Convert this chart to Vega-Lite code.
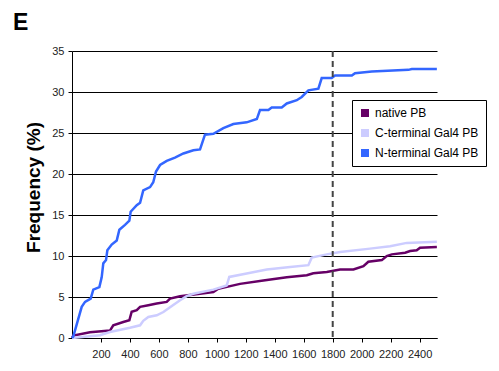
{
  "$schema": "https://vega.github.io/schema/vega-lite/v6.json",
  "width": 365,
  "height": 287,
  "autosize": {"type": "none"},
  "padding": {"left": 72, "top": 51, "right": 62, "bottom": 33},
  "background": "white",
  "title": {
    "text": "E",
    "anchor": "start",
    "frame": "group",
    "font": "Liberation Sans",
    "fontSize": 23,
    "fontWeight": "bold",
    "color": "#000",
    "baseline": "alphabetic",
    "offset": 0,
    "dx": -59,
    "dy": 8
  },
  "config": {
    "view": {"stroke": null},
    "font": "Liberation Sans",
    "axisX": {"labelOverlap": false, "labelBound": false}
  },
  "datasets": {
    "curves": [
      {"series": "native PB", "x": 0, "y": 0},
      {"series": "native PB", "x": 9, "y": 0.3},
      {"series": "native PB", "x": 124, "y": 0.7},
      {"series": "native PB", "x": 262, "y": 0.9},
      {"series": "native PB", "x": 285, "y": 1.55},
      {"series": "native PB", "x": 354, "y": 1.95},
      {"series": "native PB", "x": 396, "y": 2.16},
      {"series": "native PB", "x": 412, "y": 3.2},
      {"series": "native PB", "x": 447, "y": 3.4},
      {"series": "native PB", "x": 470, "y": 3.8},
      {"series": "native PB", "x": 527, "y": 4.0},
      {"series": "native PB", "x": 585, "y": 4.2},
      {"series": "native PB", "x": 654, "y": 4.4},
      {"series": "native PB", "x": 677, "y": 4.8},
      {"series": "native PB", "x": 746, "y": 5.1},
      {"series": "native PB", "x": 884, "y": 5.4},
      {"series": "native PB", "x": 976, "y": 5.6},
      {"series": "native PB", "x": 1010, "y": 6.0},
      {"series": "native PB", "x": 1160, "y": 6.6},
      {"series": "native PB", "x": 1321, "y": 7.0},
      {"series": "native PB", "x": 1483, "y": 7.4},
      {"series": "native PB", "x": 1621, "y": 7.65},
      {"series": "native PB", "x": 1666, "y": 7.9},
      {"series": "native PB", "x": 1759, "y": 8.06},
      {"series": "native PB", "x": 1851, "y": 8.35},
      {"series": "native PB", "x": 1943, "y": 8.35},
      {"series": "native PB", "x": 2012, "y": 8.75},
      {"series": "native PB", "x": 2046, "y": 9.3},
      {"series": "native PB", "x": 2139, "y": 9.5},
      {"series": "native PB", "x": 2173, "y": 10.0},
      {"series": "native PB", "x": 2208, "y": 10.2},
      {"series": "native PB", "x": 2300, "y": 10.4},
      {"series": "native PB", "x": 2334, "y": 10.6},
      {"series": "native PB", "x": 2380, "y": 10.7},
      {"series": "native PB", "x": 2403, "y": 11.0},
      {"series": "native PB", "x": 2519, "y": 11.1},

      {"series": "C-terminal Gal4 PB", "x": 0, "y": 0},
      {"series": "C-terminal Gal4 PB", "x": 193, "y": 0.33},
      {"series": "C-terminal Gal4 PB", "x": 262, "y": 0.73},
      {"series": "C-terminal Gal4 PB", "x": 400, "y": 1.25},
      {"series": "C-terminal Gal4 PB", "x": 470, "y": 1.55},
      {"series": "C-terminal Gal4 PB", "x": 492, "y": 2.1},
      {"series": "C-terminal Gal4 PB", "x": 527, "y": 2.56},
      {"series": "C-terminal Gal4 PB", "x": 585, "y": 2.77},
      {"series": "C-terminal Gal4 PB", "x": 631, "y": 3.17},
      {"series": "C-terminal Gal4 PB", "x": 677, "y": 3.75},
      {"series": "C-terminal Gal4 PB", "x": 746, "y": 4.6},
      {"series": "C-terminal Gal4 PB", "x": 792, "y": 5.1},
      {"series": "C-terminal Gal4 PB", "x": 838, "y": 5.4},
      {"series": "C-terminal Gal4 PB", "x": 976, "y": 5.9},
      {"series": "C-terminal Gal4 PB", "x": 1068, "y": 6.4},
      {"series": "C-terminal Gal4 PB", "x": 1086, "y": 7.45},
      {"series": "C-terminal Gal4 PB", "x": 1206, "y": 7.86},
      {"series": "C-terminal Gal4 PB", "x": 1345, "y": 8.35},
      {"series": "C-terminal Gal4 PB", "x": 1506, "y": 8.67},
      {"series": "C-terminal Gal4 PB", "x": 1632, "y": 8.88},
      {"series": "C-terminal Gal4 PB", "x": 1655, "y": 9.8},
      {"series": "C-terminal Gal4 PB", "x": 1759, "y": 10.2},
      {"series": "C-terminal Gal4 PB", "x": 1851, "y": 10.5},
      {"series": "C-terminal Gal4 PB", "x": 2058, "y": 10.9},
      {"series": "C-terminal Gal4 PB", "x": 2196, "y": 11.2},
      {"series": "C-terminal Gal4 PB", "x": 2311, "y": 11.6},
      {"series": "C-terminal Gal4 PB", "x": 2519, "y": 11.75},

      {"series": "N-terminal Gal4 PB", "x": 0, "y": 0},
      {"series": "N-terminal Gal4 PB", "x": 9, "y": 0.2},
      {"series": "N-terminal Gal4 PB", "x": 67, "y": 3.8},
      {"series": "N-terminal Gal4 PB", "x": 90, "y": 4.4},
      {"series": "N-terminal Gal4 PB", "x": 129, "y": 4.8},
      {"series": "N-terminal Gal4 PB", "x": 147, "y": 5.9},
      {"series": "N-terminal Gal4 PB", "x": 189, "y": 6.2},
      {"series": "N-terminal Gal4 PB", "x": 205, "y": 7.4},
      {"series": "N-terminal Gal4 PB", "x": 216, "y": 9.1},
      {"series": "N-terminal Gal4 PB", "x": 235, "y": 9.5},
      {"series": "N-terminal Gal4 PB", "x": 244, "y": 10.7},
      {"series": "N-terminal Gal4 PB", "x": 274, "y": 11.4},
      {"series": "N-terminal Gal4 PB", "x": 309, "y": 11.9},
      {"series": "N-terminal Gal4 PB", "x": 327, "y": 13.2},
      {"series": "N-terminal Gal4 PB", "x": 366, "y": 13.8},
      {"series": "N-terminal Gal4 PB", "x": 396, "y": 14.3},
      {"series": "N-terminal Gal4 PB", "x": 405, "y": 15.4},
      {"series": "N-terminal Gal4 PB", "x": 447, "y": 16.2},
      {"series": "N-terminal Gal4 PB", "x": 470, "y": 16.5},
      {"series": "N-terminal Gal4 PB", "x": 492, "y": 18.0},
      {"series": "N-terminal Gal4 PB", "x": 539, "y": 18.4},
      {"series": "N-terminal Gal4 PB", "x": 561, "y": 19.0},
      {"series": "N-terminal Gal4 PB", "x": 580, "y": 20.3},
      {"series": "N-terminal Gal4 PB", "x": 608, "y": 21.1},
      {"series": "N-terminal Gal4 PB", "x": 654, "y": 21.6},
      {"series": "N-terminal Gal4 PB", "x": 711, "y": 22.0},
      {"series": "N-terminal Gal4 PB", "x": 769, "y": 22.5},
      {"series": "N-terminal Gal4 PB", "x": 838, "y": 22.9},
      {"series": "N-terminal Gal4 PB", "x": 884, "y": 23.0},
      {"series": "N-terminal Gal4 PB", "x": 918, "y": 24.8},
      {"series": "N-terminal Gal4 PB", "x": 976, "y": 24.9},
      {"series": "N-terminal Gal4 PB", "x": 1045, "y": 25.6},
      {"series": "N-terminal Gal4 PB", "x": 1114, "y": 26.1},
      {"series": "N-terminal Gal4 PB", "x": 1206, "y": 26.3},
      {"series": "N-terminal Gal4 PB", "x": 1276, "y": 26.7},
      {"series": "N-terminal Gal4 PB", "x": 1298, "y": 27.8},
      {"series": "N-terminal Gal4 PB", "x": 1356, "y": 27.8},
      {"series": "N-terminal Gal4 PB", "x": 1379, "y": 28.1},
      {"series": "N-terminal Gal4 PB", "x": 1448, "y": 28.1},
      {"series": "N-terminal Gal4 PB", "x": 1483, "y": 28.6},
      {"series": "N-terminal Gal4 PB", "x": 1552, "y": 29.0},
      {"series": "N-terminal Gal4 PB", "x": 1586, "y": 29.4},
      {"series": "N-terminal Gal4 PB", "x": 1632, "y": 30.2},
      {"series": "N-terminal Gal4 PB", "x": 1701, "y": 30.4},
      {"series": "N-terminal Gal4 PB", "x": 1724, "y": 31.7},
      {"series": "N-terminal Gal4 PB", "x": 1793, "y": 31.7},
      {"series": "N-terminal Gal4 PB", "x": 1816, "y": 32.0},
      {"series": "N-terminal Gal4 PB", "x": 1932, "y": 32.0},
      {"series": "N-terminal Gal4 PB", "x": 1954, "y": 32.3},
      {"series": "N-terminal Gal4 PB", "x": 2070, "y": 32.5},
      {"series": "N-terminal Gal4 PB", "x": 2323, "y": 32.7},
      {"series": "N-terminal Gal4 PB", "x": 2346, "y": 32.8},
      {"series": "N-terminal Gal4 PB", "x": 2519, "y": 32.8}
    ],
    "cutoff": [{"x": 1800}]
  },
  "layer": [
    {
      "data": {"name": "curves"},
      "mark": {"type": "line", "strokeWidth": 2.5, "interpolate": "linear"},
      "encoding": {
        "x": {
          "field": "x",
          "type": "quantitative",
          "scale": {"domain": [0, 2520], "nice": false, "zero": false},
          "axis": {
            "title": null,
            "values": [200, 400, 600, 800, 1000, 1200, 1400, 1600, 1800, 2000, 2200, 2400],
            "format": "d",
            "labelOverlap": false,
            "labelBound": false,
            "grid": false,
            "domainColor": "#000",
            "domainWidth": 1,
            "tickColor": "#000",
            "tickSize": 4,
            "labelFont": "Liberation Sans",
            "labelFontSize": 11,
            "labelColor": "#222",
            "labelPadding": 6
          }
        },
        "y": {
          "field": "y",
          "type": "quantitative",
          "scale": {"domain": [0, 35], "nice": false},
          "axis": {
            "title": "Frequency (%)",
            "titleFont": "Liberation Sans",
            "titleFontSize": 19,
            "titleFontWeight": "bold",
            "titleColor": "#000",
            "titlePadding": 8,
            "titleY": 136,
            "values": [0, 5, 10, 15, 20, 25, 30, 35],
            "grid": true,
            "gridColor": "#000",
            "gridWidth": 1,
            "gridOpacity": 1,
            "domainColor": "#000",
            "tickColor": "#000",
            "tickSize": 4,
            "labelFont": "Liberation Sans",
            "labelFontSize": 11,
            "labelColor": "#222",
            "labelPadding": 4
          }
        },
        "color": {
          "field": "series",
          "type": "nominal",
          "scale": {
            "domain": ["native PB", "C-terminal Gal4 PB", "N-terminal Gal4 PB"],
            "range": ["#660066", "#CCCCFF", "#3366FF"]
          },
          "legend": {
            "title": null,
            "orient": "none",
            "legendX": 280,
            "legendY": 49,
            "symbolType": "square",
            "symbolSize": 64,
            "symbolStrokeWidth": 0,
            "labelFont": "Liberation Sans",
            "labelFontSize": 12,
            "labelColor": "#000",
            "labelOffset": 4,
            "rowPadding": 8,
            "padding": 7,
            "strokeColor": "#000",
            "fillColor": "#fff",
            "cornerRadius": 0,
            "symbolOpacity": 1,
            "encode": {
              "symbols": {
                "update": {
                  "fill": {"scale": "color", "field": "value"},
                  "fillOpacity": {"value": 1}
                }
              }
            }
          }
        },
        "order": {"field": "x", "type": "quantitative"}
      }
    },
    {
      "data": {"name": "cutoff"},
      "mark": {"type": "rule", "color": "#444", "strokeWidth": 2, "strokeDash": [6, 4]},
      "encoding": {
        "x": {
          "field": "x",
          "type": "quantitative",
          "axis": {
            "title": null,
            "values": [200, 400, 600, 800, 1000, 1200, 1400, 1600, 1800, 2000, 2200, 2400],
            "format": "d",
            "labelOverlap": false,
            "labelBound": false
          }
        }
      }
    }
  ]
}
